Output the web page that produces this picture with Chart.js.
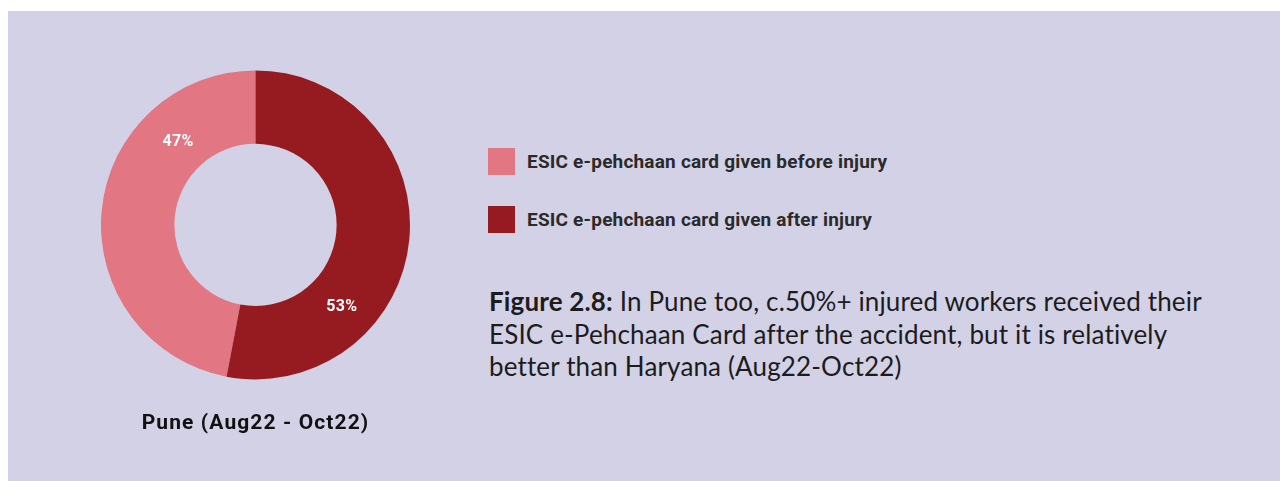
<!DOCTYPE html>
<html>
<head>
<meta charset="utf-8">
<script src="https://cdn.jsdelivr.net/npm/chart.js"></script>
<style>
  html, body { margin: 0; padding: 0; background: #ffffff; width: 1280px; height: 481px; overflow: hidden; }
  #panel { position: absolute; left: 8px; top: 11px; right: 0; bottom: 0; background: #d3d1e6; }
  #chartBox { position: absolute; left: 101px; top: 70px; width: 309px; height: 374px; }
  #legend { position: absolute; left: 488px; top: 148px; }
  .item { position: relative; height: 27px; margin-bottom: 31px; }
  .sw { position: absolute; left: 0; top: 0; width: 27px; height: 27px; }
  .lt { position: absolute; left: 39px; top: 0; line-height: 27px; font-family: Roboto, sans-serif; font-weight: 700; font-size: 19px; color: #2a2a2a; white-space: nowrap; letter-spacing: 0.2px; }
  #caption { position: absolute; left: 489px; top: 285px; width: 790px; font-family: Lato, sans-serif; font-size: 26px; line-height: 32.5px; letter-spacing: 0.15px; color: #1c1c1c; white-space: nowrap; }
  #caption b { font-weight: 700; }
</style>
</head>
<body>
<div id="panel"></div>
<div id="chartBox"><canvas id="c"></canvas></div>
<div id="legend"></div>
<div id="caption"><b>Figure 2.8:</b> In Pune too, c.50%+ injured workers received their<br>ESIC e-Pehchaan Card after the accident, but it is relatively<br>better than Haryana (Aug22-Oct22)</div>
<script>
const categories = ["ESIC e-pehchaan card given before injury", "ESIC e-pehchaan card given after injury"];
const values = [47, 53];
const valueLabels = ["47%", "53%"];
const colors = ["#e37683", "#961b20"];
const chartTitle = "Pune (Aug22 - Oct22)";

const total = values.reduce((a, b) => a + b, 0);
const rotationDeg = values[1] / total * 360;

// HTML legend built from the data arrays
const legendEl = document.getElementById('legend');
categories.forEach((c, i) => {
  const it = document.createElement('div');
  it.className = 'item';
  it.innerHTML = '<div class="sw" style="background:' + colors[i] + '"></div><div class="lt"></div>';
  it.querySelector('.lt').textContent = c;
  legendEl.appendChild(it);
});

const spacingPlugin = {
  id: 'titleSpacing',
  beforeDraw(chart) { chart.ctx.letterSpacing = '1.1px'; },
  beforeDatasetsDraw(chart) { chart.ctx.letterSpacing = '0px'; }
};

const labelPlugin = {
  id: 'arcLabels',
  afterDatasetsDraw(chart, args, opts) {
    const ctx = chart.ctx;
    const meta = chart.getDatasetMeta(0);
    ctx.save();
    ctx.letterSpacing = '0.3px';
    ctx.fillStyle = '#ffffff';
    ctx.font = 'bold 16px Roboto, sans-serif';
    ctx.textAlign = 'center';
    ctx.textBaseline = 'middle';
    meta.data.forEach((arc, i) => {
      const p = arc.getProps(['x', 'y', 'startAngle', 'endAngle', 'innerRadius', 'outerRadius'], true);
      const f = opts.angleFrac[i];
      const a = p.startAngle + f * (p.endAngle - p.startAngle);
      const r = (p.innerRadius + p.outerRadius) / 2 * opts.radiusFrac[i];
      ctx.fillText(valueLabels[i], p.x + Math.cos(a) * r, p.y + Math.sin(a) * r);
    });
    ctx.restore();
  }
};

new Chart(document.getElementById('c'), {
  type: 'doughnut',
  data: {
    labels: categories,
    datasets: [{
      data: values,
      backgroundColor: colors,
      borderWidth: 0,
      hoverOffset: 0
    }]
  },
  options: {
    responsive: true,
    maintainAspectRatio: false,
    animation: false,
    rotation: rotationDeg,
    cutout: '52.5%',
    layout: { padding: { left: 0, right: 0, top: 0, bottom: 0 } },
    events: [],
    plugins: {
      legend: { display: false },
      tooltip: { enabled: false },
      title: {
        display: true,
        text: chartTitle,
        position: 'bottom',
        color: '#111111',
        font: { family: 'Roboto, sans-serif', size: 21, weight: 'bold', lineHeight: 1.2 },
        padding: { top: 31, bottom: 8 }
      },
      arcLabels: { angleFrac: [0.745, 0.70], radiusFrac: [0.96, 1.01] }
    }
  },
  plugins: [spacingPlugin, labelPlugin]
});
</script>
</body>
</html>
